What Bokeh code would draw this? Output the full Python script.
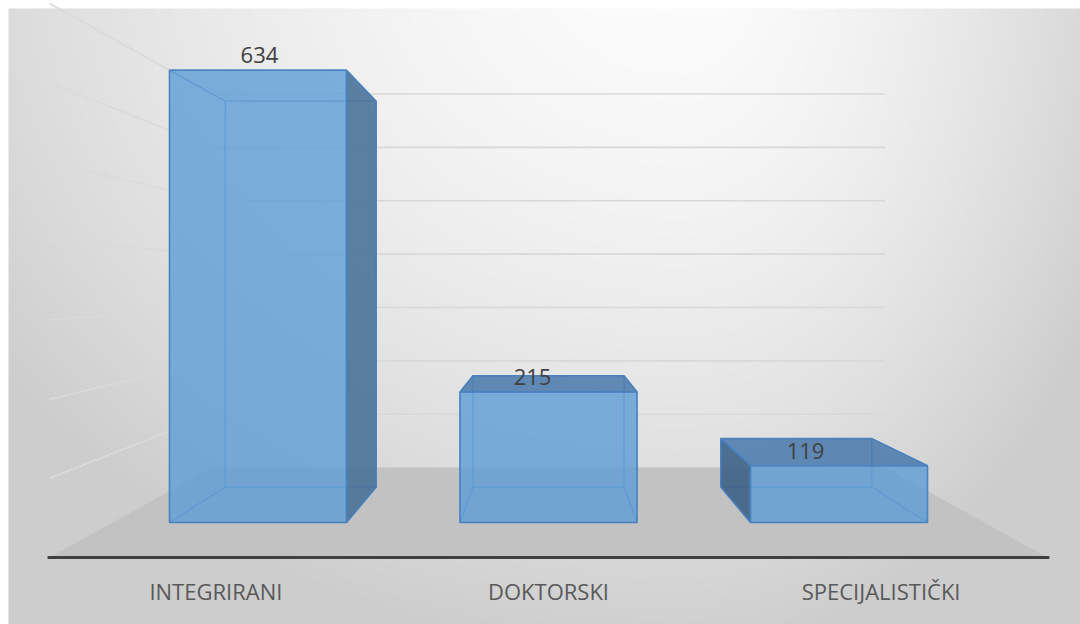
import numpy as np
from bokeh.plotting import figure
from bokeh.models import Range1d
from bokeh.embed import file_html
from bokeh.resources import INLINE
from bokeh.core.properties import value

# ---------------- data ----------------
categories = ["INTEGRIRANI", "DOKTORSKI", "SPECIJALISTIČKI"]
counts = [634, 215, 119]
axis_min = 45        # value at the floor
grid_step = 90       # value step between gridlines
n_grid = 7

# ---------------- layout / projection ----------------
W, H = 1080, 624
MARGIN = 8                    # white frame at top / left of the chart area
VPX, VPY = 548.0, 281.0       # vanishing point (screen px)
D = 1000.0                    # viewer distance
FLOOR_Y = 241.0               # floor level below vanishing point (world px)
PX_PER_UNIT = 0.768           # world px per value unit
CAT_SPACING = 290.5
BAR_W = 177.0
BAR_DEPTH = 172.3
Z_FLOOR_FRONT = -126.6
Z_FLOOR_BACK = 295.3
HALF_FLOOR = 1.5 * CAT_SPACING


def proj(X, h, z):
    """world (X, height above floor, depth) -> data coords (x, -screen_y)"""
    f = D / (D + z)
    return VPX + f * X, -(VPY + f * (FLOOR_Y - h))


def vh(v):
    return (v - axis_min) * PX_PER_UNIT


p = figure(width=W, height=H, output_backend="svg", toolbar_location=None,
           x_range=Range1d(0, W), y_range=Range1d(-H, 0),
           min_border=0)
p.axis.visible = False
p.grid.visible = False
p.outline_line_color = None
p.background_fill_color = "white"
p.border_fill_color = "white"

# ---------------- background gradient ----------------
xs = np.arange(MARGIN, W) + 0.5
ys = np.arange(MARGIN, H) + 0.5
XX, YY = np.meshgrid(xs, ys)
cx, cy = 680.0, -50.0
rx = np.where(XX < cx, 770.0, 440.0)
ry = 640.0
d = np.sqrt(((XX - cx) / rx) ** 2 + ((YY - cy) / ry) ** 2)
d = np.minimum(d, 1.1)
g = 252.0 - 40.0 * d ** 1.6
g = np.clip(g, 0, 255).astype(np.uint32)
img = (255 << 24) | (g << 16) | (g << 8) | g
img = img[::-1].copy()  # row 0 at bottom
p.image_rgba(image=[img.view(np.uint32)], x=MARGIN, y=-H, dw=W - MARGIN, dh=H - MARGIN)

# ---------------- gridlines (back wall + left wall) ----------------
grid_vals = [axis_min + grid_step * (k + 1) for k in range(n_grid)]
back_x, back_y, side_x, side_y = [], [], [], []
for gv in grid_vals:
    h = vh(gv)
    a = proj(-HALF_FLOOR, h, Z_FLOOR_BACK)
    b = proj(HALF_FLOOR, h, Z_FLOOR_BACK)
    c = proj(-HALF_FLOOR, h, Z_FLOOR_FRONT)
    back_x.append([a[0], b[0]]); back_y.append([a[1], b[1]])
    side_x.append([c[0], a[0]]); side_y.append([c[1], a[1]])
p.multi_line(back_x, back_y, line_color="#d8d8d8", line_width=1.6)
p.multi_line(side_x, side_y, line_color="#dadada", line_width=1.6)

# ---------------- floor ----------------
fl = [proj(-HALF_FLOOR, 0, Z_FLOOR_FRONT), proj(HALF_FLOOR, 0, Z_FLOOR_FRONT),
      proj(HALF_FLOOR, 0, Z_FLOOR_BACK), proj(-HALF_FLOOR, 0, Z_FLOOR_BACK)]
p.patch([q[0] for q in fl], [q[1] for q in fl], fill_color="#c2c2c2", line_color=None)

# ---------------- bars ----------------
n = len(categories)
edge_col = "#4a82bf"
for i, v in enumerate(counts):
    xc = (i - (n - 1) / 2) * CAT_SPACING
    x0, x1 = xc - BAR_W / 2, xc + BAR_W / 2
    h = vh(v)
    z0, z1 = 0.0, BAR_DEPTH
    corners = {}
    for xn, xv in (("l", x0), ("r", x1)):
        for hn, hv in (("b", 0.0), ("t", h)):
            for zn, zv in (("f", z0), ("k", z1)):
                corners[xn + hn + zn] = proj(xv, hv, zv)
    # all 12 edges (hidden ones show faintly through the transparent faces)
    edges = [("lbf", "rbf"), ("ltf", "rtf"), ("lbk", "rbk"), ("ltk", "rtk"),
             ("lbf", "ltf"), ("rbf", "rtf"), ("lbk", "ltk"), ("rbk", "rtk"),
             ("lbf", "lbk"), ("rbf", "rbk"), ("ltf", "ltk"), ("rtf", "rtk")]
    p.multi_line([[corners[a][0], corners[b][0]] for a, b in edges],
                 [[corners[a][1], corners[b][1]] for a, b in edges],
                 line_color="#5a92cc", line_width=1.2, line_alpha=0.9)

    faces = []
    # top face visible when below eye level
    if FLOOR_Y - h > 0:
        faces.append((["ltf", "rtf", "rtk", "ltk"], "#4878ab", 0.85))
    if x1 < 0:
        faces.append((["rbf", "rtf", "rtk", "rbk"], "#466f96", 0.88))
    if x0 > 0:
        faces.append((["lbf", "ltf", "ltk", "lbk"], "#3a5f85", 0.88))
    faces.append((["lbf", "rbf", "rtf", "ltf"], "#5b9bd5", 0.78))
    for keys, col, al in faces:
        p.patch([corners[k][0] for k in keys], [corners[k][1] for k in keys],
                fill_color=col, fill_alpha=al, line_color=edge_col, line_width=1.5)

    # data label
    ftop = corners["ltf"][1]
    p.text(x=[VPX + 0.94 * xc - 16], y=[ftop + 15], text=[str(v)],
           text_align="center", text_baseline="alphabetic",
           text_font=value("Open Sans"), text_font_size="22px", text_color="#404040")

# ---------------- category axis ----------------
fa = proj(-HALF_FLOOR, 0, Z_FLOOR_FRONT)
fb = proj(HALF_FLOOR, 0, Z_FLOOR_FRONT)
p.line([fa[0] - 2, fb[0] + 2], [fa[1], fb[1]], line_color="#404040", line_width=3)
lab_x = [proj((i - (n - 1) / 2) * CAT_SPACING, 0, Z_FLOOR_FRONT)[0] for i in range(n)]
lab_y = [fa[1] - 34] * n
p.text(x=lab_x, y=lab_y, text=categories, text_align="center", text_baseline="middle",
       text_font=value("Open Sans"), text_font_size="22px", text_color="#595959")

open("out.html", "w").write(file_html(p, INLINE))
